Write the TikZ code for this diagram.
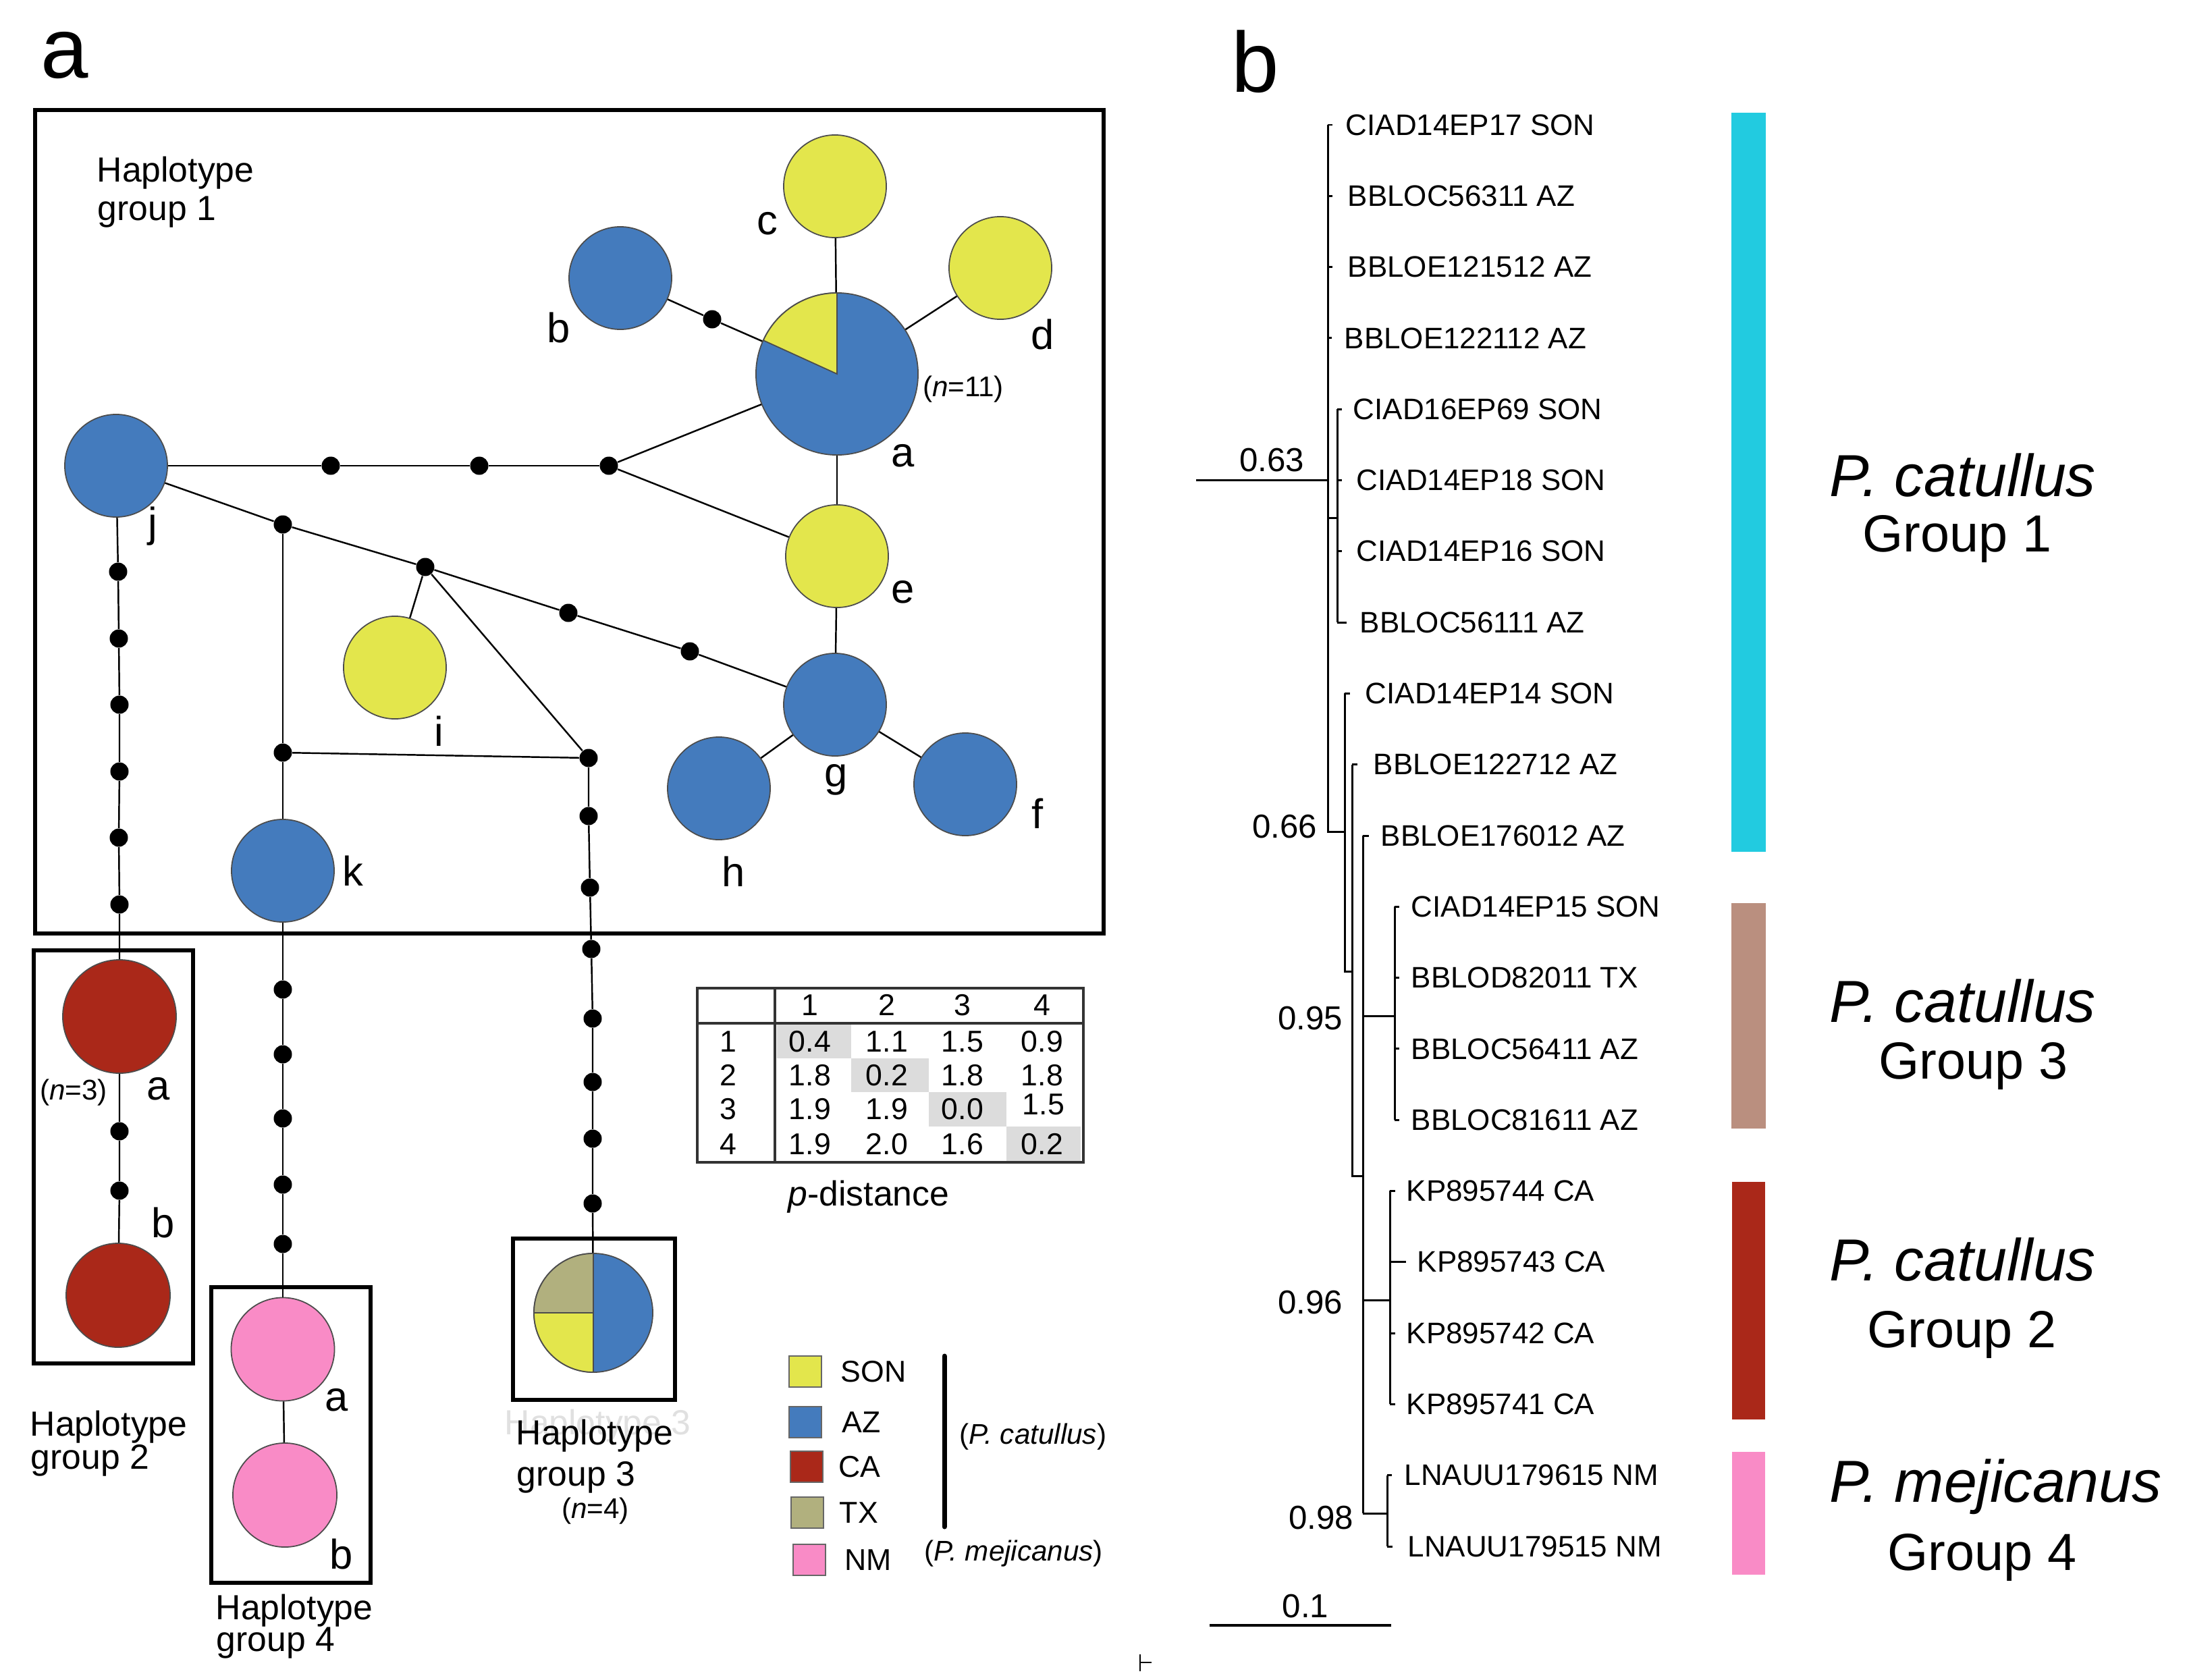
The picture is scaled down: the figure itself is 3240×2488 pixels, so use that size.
\documentclass[tikz,border=0pt]{standalone}
\usepackage{fontspec}
\setmainfont{Liberation Sans}
\definecolor{hblue}{HTML}{447BBD}
\definecolor{hyellow}{HTML}{E3E64C}
\definecolor{hred}{HTML}{AA2819}
\definecolor{hpink}{HTML}{F98BC6}
\definecolor{htan}{HTML}{B1B07E}
\definecolor{bcyan}{HTML}{22CBE0}
\definecolor{bbrown}{HTML}{BA8F7F}
\definecolor{tgray}{HTML}{DCDCDC}
\definecolor{ghost}{HTML}{E0E0E0}
\begin{document}
\begin{tikzpicture}[x=0.01cm, y=-0.01cm,
  hap/.style={circle, draw=black!70, line width=0.5pt, inner sep=0pt, minimum size=1.52cm},
  mdot/.style={circle, fill=black, inner sep=0pt, minimum size=0.27cm},
  edge/.style={line width=0.7pt},
  gbox/.style={line width=1.9pt},
  lab/.style={font=\fontsize{17.5}{20}\selectfont, inner sep=0pt},
  hg/.style={font=\fontsize{14.7}{17}\selectfont, inner sep=0pt, anchor=base west},
  nsm/.style={font=\fontsize{12}{14}\selectfont, inner sep=0pt},
  panel/.style={font=\fontsize{36}{40}\selectfont, inner sep=0pt, anchor=base west},
  taxon/.style={font=\fontsize{12.5}{14}\selectfont, inner sep=0pt, anchor=west},
  tree/.style={line width=0.85pt},
  supp/.style={font=\fontsize{14}{16}\selectfont, inner sep=0pt},
  species/.style={font=\fontsize{25}{28}\selectfont\itshape, inner sep=0pt, anchor=base west},
  grp/.style={font=\fontsize{22}{26}\selectfont, inner sep=0pt, anchor=base west},
  tnum/.style={font=\fontsize{12.7}{14}\selectfont, inner sep=0pt},
  tline/.style={line width=0.9pt, draw=black!80},
  lsq/.style={draw=black!60, line width=0.5pt, minimum width=0.48cm, minimum height=0.46cm, inner sep=0pt},
  ltxt/.style={font=\fontsize{12.7}{14}\selectfont, inner sep=0pt, anchor=west},
  bar/.style={inner sep=0pt}
]
\useasboundingbox (0,0) rectangle (3240,2488);
\fill[white] (0,0) rectangle (3240,2488);

% ---------- panel labels ----------
\node[panel] (pa) at (60,116) {a};
\node[panel] (pb) at (1824,137) {b};

% ---------- group boxes ----------
\draw[gbox] (52,163) rectangle (1635,1383);
\draw[gbox] (50,1408) rectangle (286,2020);
\draw[gbox] (313,1907) rectangle (549,2345);
\draw[gbox] (760,1835) rectangle (1000,2074);

% ---------- haplotype nodes ----------
\node[hap, fill=hblue, minimum size=2.4cm] (A) at (1240,554) {};
\filldraw[fill=hyellow, draw=black!70, line width=0.5pt] (1240,554) -- ++(0,-120) arc[start angle=270, end angle=204.5, radius=120] -- cycle;
\node[hap, fill=hblue] (B) at (919,412) {};
\node[hap, fill=hyellow] (C) at (1237,276) {};
\node[hap, fill=hyellow] (D) at (1482,397) {};
\node[hap, fill=hyellow] (E) at (1240,824) {};
\node[hap, fill=hblue] (G) at (1237,1044) {};
\node[hap, fill=hblue] (H) at (1065,1168) {};
\node[hap, fill=hblue] (F) at (1430,1162) {};
\node[hap, fill=hblue] (J) at (172,690) {};
\node[hap, fill=hyellow] (I) at (585,989) {};
\node[hap, fill=hblue] (K) at (419,1290) {};
\node[hap, fill=hred, minimum size=1.68cm] (RA) at (177,1506) {};
\node[hap, fill=hred, minimum size=1.54cm] (RB) at (175,1919) {};
\node[hap, fill=hpink, minimum size=1.53cm] (PA) at (419,1999) {};
\node[hap, fill=hpink, minimum size=1.54cm] (PB) at (422,2215) {};
\node[hap, fill=hblue, minimum size=1.76cm] (P3) at (879,1945) {};
\filldraw[fill=htan, draw=black!70, line width=0.5pt] (879,1945) -- ++(-88,0) arc[start angle=180, end angle=270, radius=88] -- cycle;
\filldraw[fill=hyellow, draw=black!70, line width=0.5pt] (879,1945) -- ++(0,88) arc[start angle=90, end angle=180, radius=88] -- cycle;
\draw[draw=black!70, line width=0.5pt] (P3.north) -- (P3.south);

% ---------- median vectors ----------
\node[mdot] (bd) at (1055,473) {};
\node[mdot] (m1) at (490,690) {};
\node[mdot] (m2) at (710,690) {};
\node[mdot] (m3) at (902,690) {};
\node[mdot] (d1) at (419,777) {};
\node[mdot] (d2) at (630,840) {};
\node[mdot] (d3) at (842,908) {};
\node[mdot] (d4) at (1022,965) {};
\node[mdot] (e1) at (419,1115) {};
\node[mdot] (e2) at (872,1123) {};
\foreach \n/\x/\y in {1/872/1209, 2/874/1315, 3/876/1406, 4/878/1509, 5/878/1603, 6/878/1687, 7/878/1783}
  \node[mdot] (q\n) at (\x,\y) {};
\foreach \n/\x/\y in {1/175/847, 2/176/946, 3/177/1044, 4/177/1143, 5/176/1241, 6/177/1340}
  \node[mdot] (s\n) at (\x,\y) {};
\node[mdot] (r1) at (177,1676) {};
\node[mdot] (r2) at (177,1764) {};
\foreach \n/\y in {1/1466, 2/1562, 3/1657, 4/1755, 5/1843}
  \node[mdot] (k\n) at (419,\y) {};

% ---------- connectors ----------
\draw[edge] (B) -- (bd) -- (A);
\draw[edge] (C) -- (A);
\draw[edge] (D) -- (A);
\draw[edge] (A) -- (E);
\draw[edge] (E) -- (G);
\draw[edge] (G) -- (H);
\draw[edge] (G) -- (F);
\draw[edge] (J) -- (m1) -- (m2) -- (m3);
\draw[edge] (m3) -- (A);
\draw[edge] (m3) -- (E);
\draw[edge] (J) -- (d1) -- (d2) -- (d3) -- (d4) -- (G);
\draw[edge] (d1) -- (e1) -- (K);
\draw[edge] (e1) -- (e2);
\draw[edge] (d2) -- (I);
\draw[edge] (d2) -- (e2);
\draw[edge] (e2) -- (q1) -- (q2) -- (q3) -- (q4) -- (q5) -- (q6) -- (q7) -- (P3);
\draw[edge] (J) -- (s1) -- (s2) -- (s3) -- (s4) -- (s5) -- (s6) -- (RA);
\draw[edge] (RA) -- (r1) -- (r2) -- (RB);
\draw[edge] (K) -- (k1) -- (k2) -- (k3) -- (k4) -- (k5) -- (PA);
\draw[edge] (PA) -- (PB);

% ---------- haplotype letters ----------
\node[lab] (lc) at (1137,331) {c};
\node[lab] (lb) at (828,486) {b};
\node[lab] (ld) at (1545,496) {d};
\node[lab] (la) at (1338,675) {a};
\node[lab] (le) at (1338,877) {e};
\node[lab] (lg) at (1239,1155) {g};
\node[lab] (lh) at (1087,1291) {h};
\node[lab] (lf) at (1537,1205) {f};
\node[lab] (lj) at (226,780) {j};
\node[lab] (li) at (650,1083) {i};
\node[lab] (lk) at (523,1290) {k};
\node[lab] (lra) at (235,1613) {a};
\node[lab] (lrb) at (242,1811) {b};
\node[lab] (lpa) at (499,2074) {a};
\node[lab] (lpb) at (506,2302) {b};
\node[nsm] (n11) at (1427,577) {(\textit{n}=11)};
\node[nsm] (n3) at (109,1619) {(\textit{n}=3)};
\node[nsm] (n4) at (882,2239) {(\textit{n}=4)};

% ---------- group captions ----------
\node[hg] (g1a) at (143,269) {Haplotype};
\node[hg] (g1b) at (144,326) {group 1};
\node[hg] (g2a) at (44,2127) {Haplotype};
\node[hg] (g2b) at (45,2176) {group 2};
\node[hg] (g4a) at (319,2399) {Haplotype};
\node[hg] (g4b) at (320,2446) {group 4};
\node[hg, text=ghost] (g3g) at (747,2125) {Haplotype 3};
\node[hg] (g3a) at (764,2140) {Haplotype};
\node[hg] (g3b) at (765,2201) {group 3};

% ---------- p-distance table ----------
\fill[tgray] (1151,1518) rectangle (1261,1568);
\fill[tgray] (1261,1568) rectangle (1376,1618);
\fill[tgray] (1376,1618) rectangle (1491,1669);
\fill[tgray] (1491,1669) rectangle (1601,1720);
\draw[tline] (1033,1464) rectangle (1605,1722);
\draw[tline] (1033,1516) -- (1605,1516);
\draw[tline] (1148,1464) -- (1148,1722);
\foreach \c/\x in {1/1200, 2/1314, 3/1426, 4/1544}
  \node[tnum] (hc\c) at (\x,1489) {\c};
\foreach \r/\y in {1/1543, 2/1593, 3/1643, 4/1695}
  \node[tnum] (hr\r) at (1079,\y) {\r};
\foreach \n/\x/\y/\v in {11/1200/1543/0.4, 12/1314/1543/1.1, 13/1426/1543/1.5, 14/1544/1543/0.9,
                          21/1200/1593/1.8, 22/1314/1593/0.2, 23/1426/1593/1.8, 24/1544/1593/1.8,
                          31/1200/1643/1.9, 32/1314/1643/1.9, 33/1426/1643/0.0, 34/1546/1636/1.5,
                          41/1200/1695/1.9, 42/1314/1695/2.0, 43/1426/1695/1.6, 44/1544/1695/0.2}
  \node[tnum] (tv\n) at (\x,\y) {\v};
\node[font=\fontsize{14.7}{17}\selectfont, inner sep=0pt] (pdist) at (1287,1773) {\textit{p}-distance};

% ---------- legend ----------
\node[lsq, fill=hyellow] (sq1) at (1193,2032) {};
\node[lsq, fill=hblue]   (sq2) at (1193,2107) {};
\node[lsq, fill=hred]    (sq3) at (1195,2173) {};
\node[lsq, fill=htan]    (sq4) at (1196,2241) {};
\node[lsq, fill=hpink]   (sq5) at (1199,2311) {};
\node[ltxt] (lt1) at (1245,2032) {SON};
\node[ltxt] (lt2) at (1247,2107) {AZ};
\node[ltxt] (lt3) at (1242,2173) {CA};
\node[ltxt] (lt4) at (1243,2241) {TX};
\node[ltxt] (lt5) at (1251,2311) {NM};
\coordinate (lbt) at (1399,2009);
\coordinate (lbb) at (1399,2262);
\draw[line width=2pt, line cap=round] (lbt) -- (lbb);
\node[ltxt, font=\fontsize{12}{14}\selectfont] (lpc) at (1421,2129) {(\textit{P. catullus})};
\node[ltxt, font=\fontsize{12}{14}\selectfont] (lpm) at (1369,2302) {(\textit{P. mejicanus})};

% ---------- tree ----------
\coordinate (root) at (1772,711);
\coordinate (n0) at (1967,711);
\draw[tree] (root) -- (n0);
\draw[tree] (1967,185) -- (1967,1232) -- (1992,1232);
\draw[tree] (1967,767) -- (1981,767);
\draw[tree] (1981,606) -- (1981,922);
\draw[tree] (1992,1027) -- (1992,1439) -- (2003,1439);
\draw[tree] (2003,1133) -- (2003,1742) -- (2019,1742);
\draw[tree] (2019,1238) -- (2019,2242);
\draw[tree] (2019,1505) -- (2066,1505);
\draw[tree] (2066,1343) -- (2066,1659);
\draw[tree] (2019,1926) -- (2059,1926);
\draw[tree] (2059,1764) -- (2059,2080);
\draw[tree] (2019,2242) -- (2055,2242);
\draw[tree] (2055,2186) -- (2055,2291);
\foreach \i/\vx/\te/\tx/\txt in {
   0/1967/1974/1993/CIAD14EP17 SON,
   1/1967/1974/1996/BBLOC56311 AZ,
   2/1967/1974/1996/BBLOE121512 AZ,
   3/1967/1973/1991/BBLOE122112 AZ,
   4/1981/1988/2004/CIAD16EP69 SON,
   5/1981/1988/2009/CIAD14EP18 SON,
   6/1981/1988/2009/CIAD14EP16 SON,
   7/1981/1995/2014/BBLOC56111 AZ,
   8/1992/2000/2022/CIAD14EP14 SON,
   9/2003/2011/2034/BBLOE122712 AZ,
   10/2019/2028/2045/BBLOE176012 AZ,
   11/2066/2073/2090/CIAD14EP15 SON,
   12/2066/2073/2090/BBLOD82011 TX,
   13/2066/2073/2090/BBLOC56411 AZ,
   14/2066/2073/2090/BBLOC81611 AZ,
   15/2059/2067/2083/KP895744 CA,
   16/2059/2083/2099/KP895743 CA,
   17/2059/2067/2083/KP895742 CA,
   18/2059/2067/2083/KP895741 CA,
   19/2055/2062/2080/LNAUU179615 NM,
   20/2055/2063/2085/LNAUU179515 NM}
{
  \pgfmathsetmacro\yy{185+105.3*\i}
  \draw[tree] (\vx,\yy) -- (\te,\yy);
  \node[taxon] (t\i) at (\tx,\yy) {\txt};
}
\node[supp] (s63) at (1884,682) {0.63};
\node[supp] (s66) at (1903,1225) {0.66};
\node[supp] (s95) at (1941,1509) {0.95};
\node[supp] (s96) at (1941,1930) {0.96};
\node[supp] (s98) at (1957,2249) {0.98};
\coordinate (sbl) at (1792,2408);
\coordinate (sbr) at (2061,2408);
\draw[line width=1.1pt] (sbl) -- (sbr);
\node[supp] (s01) at (1934,2380) {0.1};
% small mark
\draw[line width=0.8pt] (1689,2451) -- (1689,2476);
\draw[line width=0.8pt] (1689,2463) -- (1706,2463);

% ---------- clade bars ----------
\fill[bcyan] (2565,167) rectangle (2616,1262);
\fill[bbrown] (2565,1338) rectangle (2616,1672);
\fill[hred] (2566,1751) rectangle (2615,2103);
\fill[hpink] (2566,2151) rectangle (2615,2333);
\node[species] (c1) at (2710,735) {P. catullus};
\node[grp] (c1g) at (2759,817) {Group 1};
\node[species] (c3) at (2710,1514) {P. catullus};
\node[grp] (c3g) at (2783,1598) {Group 3};
\node[species] (c2) at (2710,1897) {P. catullus};
\node[grp] (c2g) at (2766,1996) {Group 2};
\node[species] (c4) at (2710,2225) {P. mejicanus};
\node[grp] (c4g) at (2796,2326) {Group 4};
\end{tikzpicture}
\end{document}
